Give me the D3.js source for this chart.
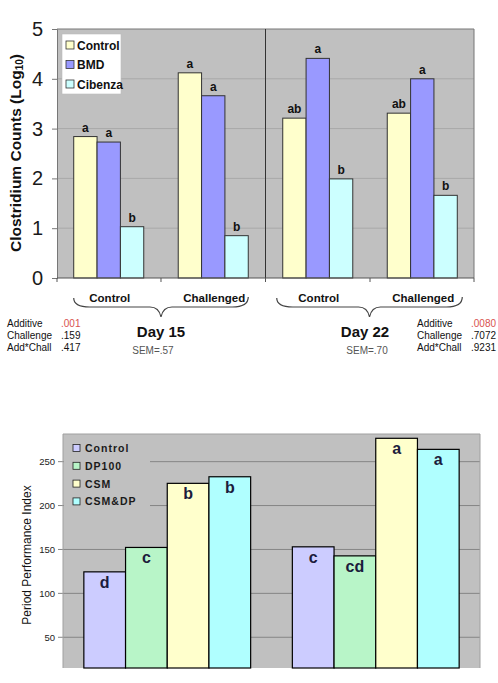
<!DOCTYPE html>
<html>
<head>
<meta charset="utf-8">
<script src="https://cdn.jsdelivr.net/npm/d3@7"></script>
<style>
  body { margin: 0; background: #fff; }
  svg { display: block; font-family: Arial, "Liberation Sans", sans-serif; }
</style>
</head>
<body>
<div id="chart"></div>
<script>
// TOP CHART DATA (clostridium counts)
const topGroups = ["d15-control", "d15-chal", "d22-control", "d22-chal"];
const topGroupLabels = ["Control", "Challenged", "Control", "Challenged"];
const topSeries = ["Control", "BMD", "Cibenza"];
const topValues = [
  [2.84, 2.73, 1.03],
  [4.12, 3.66, 0.85],
  [3.21, 4.41, 1.99],
  [3.31, 4.00, 1.66]
];
const topLetters = [
  ["a", "a", "b"],
  ["a", "a", "b"],
  ["ab", "a", "b"],
  ["ab", "a", "b"]
];
const topTicks = [0, 1, 2, 3, 4, 5];
const days = ["Day 15", "Day 22"];
const sems = ["SEM=.57", "SEM=.70"];
const statNames = ["Additive", "Challenge", "Add*Chall"];
const day15P = [".001", ".159", ".417"];
const day22P = [".0080", ".7072", ".9231"];

// BOTTOM CHART DATA (period performance index)
const perfGroups = ["g1", "g2"];
const perfSeries = ["Control", "DP100", "CSM", "CSM&DP"];
const perfValues = [
  [124.5, 152.3, 225.3, 232.8],
  [153.0, 142.7, 276.6, 264.0]
];
const perfLetters = [
  ["d", "c", "b", "b"],
  ["c", "cd", "a", "a"]
];
const perfTicks = [50, 100, 150, 200, 250];

const width = 498, height = 683;
const svg = d3.select("#chart").append("svg")
  .attr("width", width)
  .attr("height", height);

// ================= TOP CHART =================
const tb = {left: 57, right: 474, top: 29, bottom: 278};
const topColors = d3.scaleOrdinal().domain(topSeries).range(["#ffffcc", "#9999ff", "#ccffff"]);

const x0 = d3.scaleBand().domain(topGroups)
  .range([tb.left, tb.right]).paddingInner(0.33).paddingOuter(0.16);
const x1 = d3.scaleBand().domain(topSeries).range([0, x0.bandwidth()]);
const yTop = d3.scaleLinear().domain([0, 5]).range([tb.bottom, tb.top]);

svg.append("rect")
  .attr("x", tb.left).attr("y", tb.top)
  .attr("width", tb.right - tb.left).attr("height", tb.bottom - tb.top)
  .attr("fill", "#c0c0c0");

// gridlines
svg.append("g").selectAll("line")
  .data(topTicks.filter(t => t > 0 && t < 5))
  .join("line")
  .attr("x1", tb.left).attr("x2", tb.right)
  .attr("y1", d => yTop(d)).attr("y2", d => yTop(d))
  .attr("stroke", "#a8a8a8").attr("stroke-width", 1);

// border top/right
svg.append("path")
  .attr("d", `M${tb.left},${tb.top}H${tb.right}V${tb.bottom}`)
  .attr("fill", "none").attr("stroke", "#777").attr("stroke-width", 1);

// day divider
const divX = (x0("d15-chal") + x0.bandwidth() + x0("d22-control")) / 2;
svg.append("line")
  .attr("x1", divX).attr("x2", divX)
  .attr("y1", tb.top).attr("y2", tb.bottom)
  .attr("stroke", "#333").attr("stroke-width", 1);

// bars
const topG = svg.append("g").selectAll("g")
  .data(topValues)
  .join("g")
  .attr("transform", (d, i) => `translate(${x0(topGroups[i])},0)`);

topG.selectAll("rect")
  .data(d => d.map((v, j) => ({series: topSeries[j], value: v})))
  .join("rect")
  .attr("x", d => x1(d.series))
  .attr("y", d => yTop(d.value))
  .attr("width", x1.bandwidth())
  .attr("height", d => yTop(0) - yTop(d.value))
  .attr("fill", d => topColors(d.series))
  .attr("stroke", "#333").attr("stroke-width", 1);

topG.selectAll("text")
  .data((d, i) => d.map((v, j) => ({series: topSeries[j], value: v, letter: topLetters[i][j]})))
  .join("text")
  .attr("x", d => x1(d.series) + x1.bandwidth() / 2)
  .attr("y", d => yTop(d.value) - 5)
  .attr("text-anchor", "middle")
  .attr("font-size", "12px").attr("font-weight", "bold").attr("fill", "#111")
  .text(d => d.letter);

// y axis
const yAxisTop = d3.axisLeft(yTop).tickValues(topTicks).tickSize(5).tickPadding(9).tickFormat(d3.format("d"));
const yaT = svg.append("g").attr("transform", `translate(${tb.left},0)`).call(yAxisTop);
yaT.select(".domain").attr("stroke", "#777");
yaT.selectAll(".tick line").attr("stroke", "#777");
yaT.selectAll(".tick text").attr("font-size", "20px").attr("fill", "#1a1a1a")
  .attr("font-family", "Arial, 'Liberation Sans', sans-serif");

// x axis (ticks at band boundaries)
const bounds = [tb.left].concat(topGroups.map(g => x0(g) + x0.bandwidth() + x0.step() * 0.33 / 2));
bounds[bounds.length - 1] = tb.right;
svg.append("line")
  .attr("x1", tb.left).attr("x2", tb.right)
  .attr("y1", tb.bottom).attr("y2", tb.bottom)
  .attr("stroke", "#555");
svg.append("g").selectAll("line")
  .data(bounds)
  .join("line")
  .attr("x1", d => d).attr("x2", d => d)
  .attr("y1", tb.bottom).attr("y2", tb.bottom + 4)
  .attr("stroke", "#555");

svg.append("g").selectAll("text")
  .data(topGroups)
  .join("text")
  .attr("x", d => x0(d) + x0.bandwidth() / 2 + 1)
  .attr("y", 302)
  .attr("text-anchor", "middle")
  .attr("font-size", "11.5px").attr("font-weight", "bold").attr("fill", "#111")
  .text((d, i) => topGroupLabels[i]);

// y label
const yl = svg.append("text")
  .attr("transform", `translate(21,${153}) rotate(-90)`)
  .attr("text-anchor", "middle")
  .attr("font-size", "15.5px").attr("font-weight", "bold").attr("fill", "#111");
yl.append("tspan").text("Clostridium Counts (Log");
yl.append("tspan").attr("font-size", "10px").attr("dy", 2).text("10");
yl.append("tspan").attr("dy", -2).text(")");

// legend
const lg = svg.append("g");
lg.append("rect").attr("x", 62).attr("y", 34).attr("width", 59).attr("height", 60)
  .attr("fill", "#fff").attr("stroke", "#bbb").attr("stroke-width", 0.6);
topSeries.forEach((s, i) => {
  const cy = 45 + i * 19.5;
  lg.append("rect").attr("x", 66).attr("y", cy - 4).attr("width", 8).attr("height", 8)
    .attr("fill", topColors(s)).attr("stroke", "#333").attr("stroke-width", 0.8);
  lg.append("text").attr("x", 77).attr("y", cy + 4.5)
    .attr("font-size", "12px").attr("font-weight", "bold").attr("fill", "#111").text(s);
});

// braces
function brace(xa, xb) {
  const cx = (xa + xb) / 2;
  return `M${xa},298 Q${xa},307 ${xa + 16},307 L${cx - 11},307 Q${cx - 2},307 ${cx},317 ` +
         `Q${cx + 2},307 ${cx + 11},307 L${xb - 16},307 Q${xb},307 ${xb},297`;
}
const pairs = [[topGroups[0], topGroups[1]], [topGroups[2], topGroups[3]]];
svg.append("g").selectAll("path")
  .data(pairs)
  .join("path")
  .attr("d", (p, i) => brace(x0(p[0]) - (i ? 6 : 0), x0(p[1]) + x0.bandwidth() + (i ? 5 : 0)))
  .attr("fill", "none").attr("stroke", "#444").attr("stroke-width", 1.2);

svg.append("g").selectAll("text")
  .data(days)
  .join("text")
  .attr("x", (d, i) => (x0(pairs[i][0]) + x0(pairs[i][1]) + x0.bandwidth()) / 2 + (i ? -5 : 0))
  .attr("y", 337)
  .attr("text-anchor", "middle")
  .attr("font-size", "15px").attr("font-weight", "bold").attr("fill", "#111")
  .text(d => d);

svg.append("g").selectAll("text")
  .data(sems)
  .join("text")
  .attr("x", (d, i) => (x0(pairs[i][0]) + x0(pairs[i][1]) + x0.bandwidth()) / 2 + (i ? -3 : -8))
  .attr("y", 354)
  .attr("text-anchor", "middle")
  .attr("font-size", "10px").attr("fill", "#555")
  .text(d => d);

// stats tables
function stats(xLab, xVal, vals) {
  const g = svg.append("g");
  statNames.forEach((n, i) => {
    g.append("text").attr("x", xLab).attr("y", 327 + i * 12)
      .attr("font-size", "10px").attr("fill", "#111").text(n);
    g.append("text").attr("x", xVal).attr("y", 327 + i * 12)
      .attr("font-size", "10px").attr("fill", i === 0 ? "#d9534f" : "#111").text(vals[i]);
  });
}
stats(7, 61, day15P);
stats(417, 471, day22P);

// ================= BOTTOM CHART =================
const bot = {left: 63, right: 480, top: 434, bottom: 668};
const perfColors = d3.scaleOrdinal().domain(perfSeries)
  .range(["#ccccff", "#b8f5c8", "#ffffcc", "#b0ffff"]);

const bx0 = d3.scaleBand().domain(perfGroups)
  .range([bot.left, bot.right]).paddingInner(0.2).paddingOuter(0.1);
const bx1 = d3.scaleBand().domain(perfSeries).range([0, bx0.bandwidth()]);
const yBot = d3.scaleLinear().domain([15, 281.5]).range([bot.bottom, bot.top]);

svg.append("rect")
  .attr("x", bot.left).attr("y", bot.top)
  .attr("width", bot.right - bot.left).attr("height", bot.bottom - bot.top)
  .attr("fill", "#c0c0c0");

svg.append("g").selectAll("line")
  .data(perfTicks)
  .join("line")
  .attr("x1", bot.left - 5).attr("x2", bot.right)
  .attr("y1", d => yBot(d)).attr("y2", d => yBot(d))
  .attr("stroke", "#858585").attr("stroke-width", 1);

svg.append("path")
  .attr("d", `M${bot.left},${bot.bottom}V${bot.top}H${bot.right}V${bot.bottom}`)
  .attr("fill", "none").attr("stroke", "#a0a0a0").attr("stroke-width", 1);

svg.append("g").selectAll("text")
  .data(perfTicks)
  .join("text")
  .attr("x", bot.left - 8)
  .attr("y", d => yBot(d) + 3.5)
  .attr("text-anchor", "end")
  .attr("font-size", "9.5px").attr("fill", "#222")
  .text(d => d);

// legend (sits on plot background, hides gridlines)
const lg2 = svg.append("g");
lg2.append("rect").attr("x", bot.left + 1).attr("y", 438).attr("width", 86).attr("height", 72)
  .attr("fill", "#c0c0c0");
perfSeries.forEach((s, i) => {
  const cy = 448 + i * 17.8;
  lg2.append("rect").attr("x", 73).attr("y", cy - 3.5).attr("width", 7).attr("height", 7)
    .attr("fill", perfColors(s)).attr("stroke", "#222").attr("stroke-width", 0.8);
  lg2.append("text").attr("x", 85).attr("y", cy + 4)
    .attr("font-size", "10.5px").attr("font-weight", "bold").attr("letter-spacing", "1px")
    .attr("fill", "#1a1a1a").text(s);
});

const botG = svg.append("g").selectAll("g")
  .data(perfValues)
  .join("g")
  .attr("transform", (d, i) => `translate(${bx0(perfGroups[i])},0)`);

botG.selectAll("rect")
  .data(d => d.map((v, j) => ({series: perfSeries[j], value: v})))
  .join("rect")
  .attr("x", d => bx1(d.series))
  .attr("y", d => yBot(d.value))
  .attr("width", bx1.bandwidth())
  .attr("height", d => bot.bottom - yBot(d.value))
  .attr("fill", d => perfColors(d.series))
  .attr("stroke", "#000").attr("stroke-width", 1.2);

botG.selectAll("text")
  .data((d, i) => d.map((v, j) => ({series: perfSeries[j], value: v, letter: perfLetters[i][j]})))
  .join("text")
  .attr("x", d => bx1(d.series) + bx1.bandwidth() / 2)
  .attr("y", d => yBot(d.value) + 16)
  .attr("text-anchor", "middle")
  .attr("font-size", "16px").attr("font-weight", "bold").attr("fill", "#1c1c3c")
  .text(d => d.letter);

svg.append("text")
  .attr("transform", `translate(31,555) rotate(-90)`)
  .attr("text-anchor", "middle")
  .attr("font-size", "12px").attr("fill", "#111")
  .text("Period Performance Index");
</script>
</body>
</html>
